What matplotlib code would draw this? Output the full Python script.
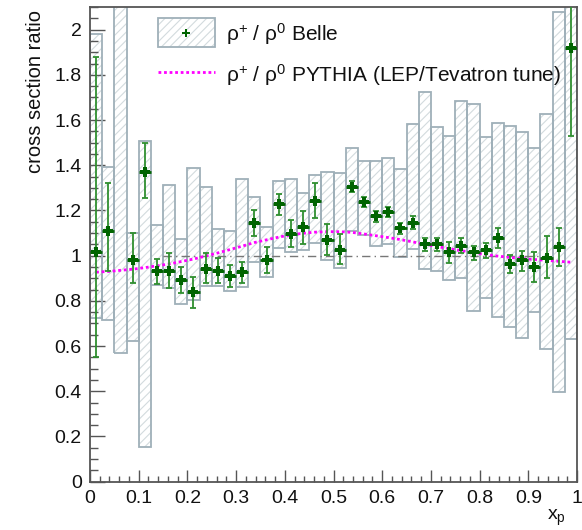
import numpy as np
import matplotlib
matplotlib.use('Agg')
import matplotlib.pyplot as plt
from matplotlib.patches import Rectangle
from matplotlib.lines import Line2D
from matplotlib.ticker import MultipleLocator, FuncFormatter

plt.rcParams['font.family'] = ['Liberation Sans', 'DejaVu Sans']
plt.rcParams['mathtext.fontset'] = 'custom'
plt.rcParams['mathtext.rm'] = 'Liberation Sans'
plt.rcParams['mathtext.default'] = 'regular'
plt.rcParams['hatch.linewidth'] = 0.8

# 40 equal bins in x_p
bin_edges = np.linspace(0.0, 1.0, 41)

# rho+/rho0 ratio measured by Belle (nan = off scale)
ratio = [1.018, 1.109, np.nan, 0.981, 1.372, 0.932, 0.934, 0.891, 0.838, 0.942,
         0.934, 0.910, 0.926, 1.145, 0.981, 1.227, 1.094, 1.125, 1.242, 1.068,
         1.025, 1.305, 1.239, 1.174, 1.193, 1.122, 1.145, 1.052, 1.050, 1.015,
         1.044, 1.015, 1.025, 1.080, 0.963, 0.981, 0.951, 0.991, 1.037, 1.917]

# statistical errors
stat_down = [0.468, 0.179, np.nan, 0.103, 0.115, 0.059, 0.076, 0.055, 0.071, 0.064,
             0.053, 0.047, 0.045, 0.058, 0.056, 0.049, 0.057, 0.073, 0.077, 0.067,
             0.063, 0.025, 0.022, 0.024, 0.023, 0.025, 0.026, 0.030, 0.028, 0.049,
             0.034, 0.034, 0.037, 0.045, 0.041, 0.047, 0.066, 0.091, 0.083, 0.388]
stat_up = [0.862, 0.211, np.nan, 0.118, 0.125, 0.053, 0.079, 0.057, 0.069, 0.068,
           0.054, 0.050, 0.047, 0.057, 0.059, 0.046, 0.064, 0.073, 0.078, 0.071,
           0.069, 0.025, 0.022, 0.024, 0.024, 0.024, 0.029, 0.028, 0.030, 0.047,
           0.033, 0.029, 0.033, 0.041, 0.040, 0.041, 0.067, 0.097, 0.084, 0.383]

# systematic band (lower / upper edge of each box)
sys_low = [0.723, 0.715, 0.571, 0.622, 0.155, 0.870, 0.855, 0.788, 0.802, 0.866,
           0.866, 0.844, 0.861, 0.973, 0.906, 1.035, 1.016, 1.025, 1.055, 0.982,
           0.944, 1.111, 1.090, 1.044, 1.053, 0.993, 1.028, 0.941, 0.934, 0.894,
           0.900, 0.757, 0.811, 0.730, 0.683, 0.634, 0.749, 0.586, 0.398, 0.630]
sys_high = [1.979, 1.394, 2.300, 1.099, 1.507, 1.134, 1.311, 1.075, 1.388, 1.304,
            1.118, 1.111, 1.341, 1.258, 1.128, 1.330, 1.341, 1.279, 1.355, 1.370,
            1.364, 1.478, 1.417, 1.420, 1.434, 1.385, 1.581, 1.723, 1.568, 1.531,
            1.686, 1.671, 1.524, 1.586, 1.575, 1.549, 1.475, 1.627, 2.077, 2.300]

# PYTHIA prediction (LEP/Tevatron tune) at the bin centres
pythia = [0.927, 0.930, 0.935, 0.940, 0.947, 0.955, 0.963, 0.974, 0.985, 0.998,
          1.012, 1.027, 1.042, 1.058, 1.070, 1.082, 1.092, 1.099, 1.104, 1.106,
          1.106, 1.103, 1.096, 1.088, 1.080, 1.071, 1.061, 1.050, 1.040, 1.031,
          1.022, 1.013, 1.005, 0.998, 0.992, 0.987, 0.983, 0.979, 0.975, 0.971]

centers = 0.5 * (bin_edges[:-1] + bin_edges[1:])
widths = np.diff(bin_edges)
ratio = np.array(ratio)
sys_low = np.array(sys_low)
sys_high = np.array(sys_high)

hatch_col = '#d3dbde'
box_col = '#9fb0b9'
green_dark = '#006400'
green_err = '#2f8f2f'
text_col = '#111111'

fig = plt.figure(figsize=(5.82, 5.30), dpi=100)
ax = fig.add_axes([90 / 582, 1 - 481.7 / 530, 487 / 582, 474.7 / 530])

# systematic boxes: hatch first, then outline
ax.bar(centers, sys_high - sys_low, width=widths, bottom=sys_low,
       facecolor='none', edgecolor=hatch_col, hatch='////', linewidth=0, zorder=1)
ax.bar(centers, sys_high - sys_low, width=widths, bottom=sys_low,
       fill=False, edgecolor=box_col, linewidth=1.3, zorder=2)

# reference line at unity
ax.plot([0.15, 0.925], [1, 1], color='#777777', lw=1.0,
        linestyle=(0, (6, 3, 1, 3)), zorder=3)

# PYTHIA curve
ax.plot(centers, pythia, color='#ff00ff', lw=2.0, linestyle=(0, (1, 1)), zorder=4)

# Belle points
ax.errorbar(centers, ratio, yerr=[stat_down, stat_up], fmt='none',
            ecolor=green_err, elinewidth=1.3, capsize=2.5, capthick=1.3, zorder=5)
ax.errorbar(centers, ratio, xerr=widths / 2, fmt='none',
            ecolor=green_dark, elinewidth=2.0, capsize=0, zorder=6)
ax.plot(centers, ratio, linestyle='none', marker='P', markersize=6.5,
        color=green_dark, markeredgewidth=0, zorder=7)

ax.set_xlim(0, 1)
ax.set_ylim(0, 2.1)

fmt = FuncFormatter(lambda v, pos: '%g' % round(v, 3))
ax.xaxis.set_major_locator(MultipleLocator(0.1))
ax.xaxis.set_minor_locator(MultipleLocator(0.02))
ax.yaxis.set_major_locator(MultipleLocator(0.2))
ax.yaxis.set_minor_locator(MultipleLocator(0.05))
ax.xaxis.set_major_formatter(fmt)
ax.yaxis.set_major_formatter(fmt)

ax.tick_params(axis='both', which='both', direction='in', colors='#555555',
               labelcolor=text_col, labelsize=14, width=1.0)
ax.tick_params(axis='y', which='major', length=10.8, pad=6)
ax.tick_params(axis='y', which='minor', length=5.8)
ax.tick_params(axis='x', which='major', length=8.6, pad=6)
ax.tick_params(axis='x', which='minor', length=4.3)
for sp in ax.spines.values():
    sp.set_color('#555555')
    sp.set_linewidth(1.3)

fig.text(36 / 582, 1 - 10 / 530, 'cross section ratio', rotation=90,
         ha='center', va='top', fontsize=14.5, color=text_col)
fig.text(566 / 582, 1 - 520 / 530, r'x$_{\mathrm{p}}$', ha='right',
         va='baseline', fontsize=14, color=text_col)

# legend drawn by hand in axes coordinates
ax.add_patch(Rectangle((0.1396, 0.9157), 0.1171, 0.0611, transform=ax.transAxes,
                       facecolor='none', edgecolor=hatch_col, hatch='////',
                       linewidth=0, zorder=8))
ax.add_patch(Rectangle((0.1396, 0.9157), 0.1171, 0.0611, transform=ax.transAxes,
                       fill=False, edgecolor=box_col, linewidth=1.3, zorder=8))
ax.plot([0.198], [0.946], transform=ax.transAxes, marker='P', markersize=6,
        color=green_dark, markeredgewidth=0, zorder=9)
ax.add_line(Line2D([0.1396, 0.2567], [0.8637, 0.8637], transform=ax.transAxes,
                   color='#ff00ff', lw=2.0, linestyle=(0, (1, 1)), zorder=9))
ax.text(0.279, 0.943, r'ρ$^{+}$ / ρ$^{0}$ Belle', transform=ax.transAxes,
        ha='left', va='center', fontsize=15, color=text_col)
ax.text(0.279, 0.857, r'ρ$^{+}$ / ρ$^{0}$ PYTHIA (LEP/Tevatron tune)',
        transform=ax.transAxes, ha='left', va='center', fontsize=15, color=text_col)

fig.savefig('out.png', dpi=100)
